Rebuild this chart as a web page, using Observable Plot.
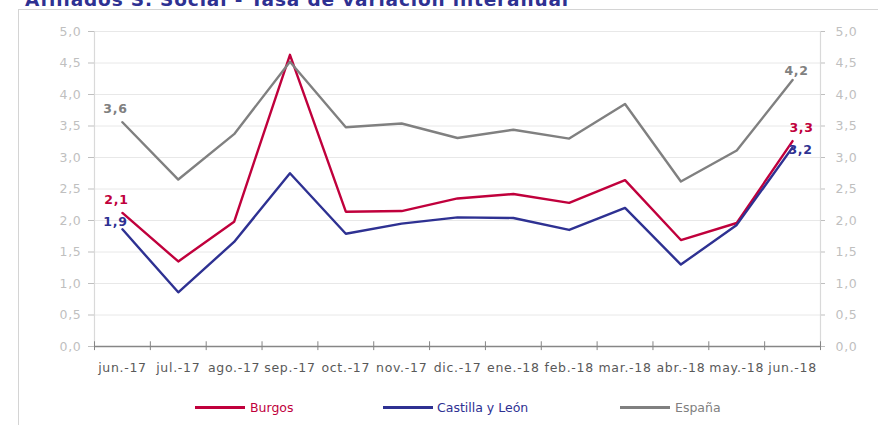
<!DOCTYPE html>
<html><head><meta charset="utf-8">
<script src="https://cdn.jsdelivr.net/npm/d3@7"></script>
<script src="https://cdn.jsdelivr.net/npm/@observablehq/plot@0.6"></script>
<style>
body{margin:0;background:#fff;overflow:hidden;}
#wrap{position:relative;width:878px;height:425px;overflow:hidden;font-family:"DejaVu Sans",sans-serif;}
#frame{position:absolute;left:18px;top:9px;width:900px;height:500px;border-left:1px solid #d4d4d4;border-top:1px solid #d4d4d4;}
#title{position:absolute;left:25px;top:-9px;font-size:18.5px;line-height:17px;font-weight:bold;color:#2e3192;white-space:nowrap;letter-spacing:0.85px;}
#chart{position:absolute;left:0;top:0;}
.lg{position:absolute;height:3px;width:50px;}
.lt{position:absolute;top:400px;font-size:12.5px;line-height:15px;white-space:nowrap;}
.c text{letter-spacing:0.7px;}
</style></head>
<body><div id="wrap"><div id="frame"></div><div id="chart"></div><div id="title"></div><div id="legend"></div></div>
<script>
const title = "Afiliados S. Social - Tasa de variación interanual";
const months = ["jun.-17","jul.-17","ago.-17","sep.-17","oct.-17","nov.-17","dic.-17","ene.-18","feb.-18","mar.-18","abr.-18","may.-18","jun.-18"];
const seriesNames = ["Burgos","Castilla y León","España"];
const seriesColors = ["#c0003c","#2e3192","#808080"];
const burgos = [2.12,1.35,1.98,4.63,2.14,2.15,2.35,2.42,2.28,2.64,1.69,1.96,3.26];
const cyl    = [1.86,0.86,1.66,2.75,1.79,1.95,2.05,2.04,1.85,2.20,1.30,1.93,3.16];
const espana = [3.56,2.65,3.37,4.52,3.48,3.54,3.31,3.44,3.30,3.85,2.62,3.11,4.23];
const yTicks = [0,0.5,1,1.5,2,2.5,3,3.5,4,4.5,5];

const values = [burgos, cyl, espana];
const table = seriesNames.flatMap((s, k) => months.map((m, i) => ({serie: s, m, i, v: values[k][i]})));
const fmt = d => d.toFixed(1).replace(".", ",");
const xc = d => d.i + 0.5;
const pick = (s, i) => table.filter(d => d.serie === s && d.i === i);
const last = months.length - 1;

function lab(s, i, dx, dy, color) {
  return Plot.text(pick(s, i), {x: xc, y: "v", text: d => fmt(d.v), dx, dy, fill: color, fontWeight: "bold", fontSize: 12.5});
}

const chart = Plot.plot({
  width: 878, height: 425,
  marginLeft: 94, marginRight: 58, marginTop: 31, marginBottom: 79,
  className: "c",
  style: {fontFamily: "DejaVu Sans, sans-serif", fontSize: "12.5px", background: "transparent"},
  x: {domain: [0, months.length], axis: null},
  y: {domain: [0, 5], axis: null},
  color: {domain: seriesNames, range: seriesColors},
  marks: [
    Plot.ruleY(yTicks.filter(t => t > 0), {stroke: "#e8e8e8"}),
    Plot.ruleX([0, months.length], {stroke: "#d9d9d9", strokeWidth: 1.2}),
    Plot.axisY({anchor: "left", label: null, ticks: yTicks, tickFormat: fmt, tickSize: 6, tickPadding: 7, color: "#bfbfbf", fontSize: 12.5}),
    Plot.axisY({anchor: "right", label: null, ticks: yTicks, tickFormat: fmt, tickSize: 4, tickPadding: 11, color: "#bfbfbf", fontSize: 12.5}),
    Plot.ruleY([0], {stroke: "#868686", strokeWidth: 1.5}),
    Plot.ruleX(d3.range(months.length + 1), {y1: -0.065, y2: 0.075, stroke: "#868686"}),
    Plot.text(months, {x: (d, i) => i + 0.5, y: () => 0, dy: 21, text: d => d, fill: "#595959", fontSize: 12.5}),
    Plot.line(table, {x: xc, y: "v", z: "serie", stroke: "serie", strokeWidth: 2.4}),
    lab("España", 0, -7, -13, seriesColors[2]),
    lab("España", last, 4, -9, seriesColors[2]),
    lab("Burgos", 0, -6, -13, seriesColors[0]),
    lab("Burgos", last, 9, -13, seriesColors[0]),
    lab("Castilla y León", 0, -7, -7, seriesColors[1]),
    lab("Castilla y León", last, 8, 3, seriesColors[1])
  ]
});
document.getElementById("chart").appendChild(chart);
document.getElementById("title").textContent = title;

const legendPos = [[195, 250], [383, 437], [620, 675]];
const lg = document.getElementById("legend");
seriesNames.forEach((s, k) => {
  const line = document.createElement("div");
  line.className = "lg";
  line.style.left = legendPos[k][0] + "px";
  line.style.top = "406px";
  line.style.background = seriesColors[k];
  lg.appendChild(line);
  const t = document.createElement("div");
  t.className = "lt";
  t.style.left = legendPos[k][1] + "px";
  t.style.color = seriesColors[k];
  t.textContent = s;
  lg.appendChild(t);
});
</script></body></html>
